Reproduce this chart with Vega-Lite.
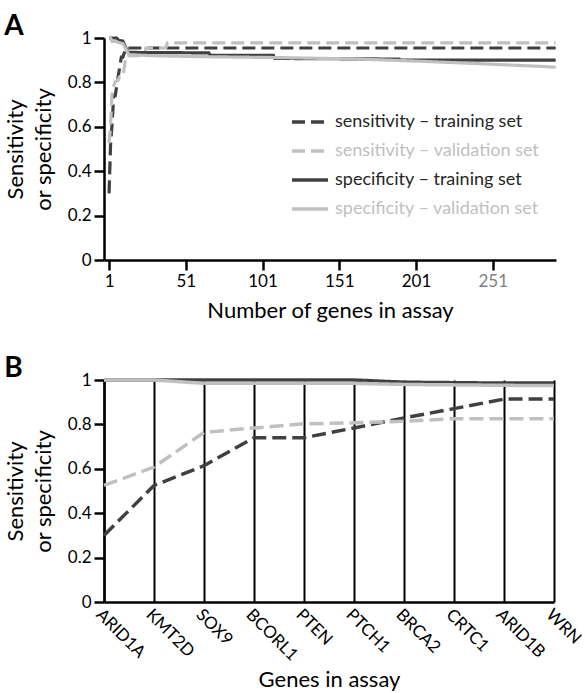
{
  "$schema": "https://vega.github.io/schema/vega-lite/v6.json",
  "padding": {"left": 4, "top": 13, "right": 5, "bottom": 5},
  "background": "white",
  "config": {
    "font": "Lato",
    "view": {"stroke": null},
    "axis": {
      "domainColor": "black", "domainWidth": 2.5, "tickColor": "black", "tickWidth": 2.5, "tickSize": 10,
      "labelFontSize": 17, "labelColor": "black", "labelPadding": 3,
      "titleFontSize": 22, "titleFontWeight": "normal", "titleColor": "black", "grid": false
    }
  },
  "datasets": {
    "A": [
      {"gene": 1, "value": 0.30, "series": "sensitivity – training set"},
      {"gene": 2, "value": 0.525, "series": "sensitivity – training set"},
      {"gene": 3, "value": 0.614, "series": "sensitivity – training set"},
      {"gene": 4, "value": 0.74, "series": "sensitivity – training set"},
      {"gene": 5, "value": 0.74, "series": "sensitivity – training set"},
      {"gene": 6, "value": 0.784, "series": "sensitivity – training set"},
      {"gene": 7, "value": 0.829, "series": "sensitivity – training set"},
      {"gene": 8, "value": 0.871, "series": "sensitivity – training set"},
      {"gene": 9, "value": 0.914, "series": "sensitivity – training set"},
      {"gene": 10, "value": 0.914, "series": "sensitivity – training set"},
      {"gene": 12, "value": 0.955, "series": "sensitivity – training set"},
      {"gene": 292, "value": 0.955, "series": "sensitivity – training set"},
      {"gene": 1, "value": 0.525, "series": "sensitivity – validation set"},
      {"gene": 2, "value": 0.608, "series": "sensitivity – validation set"},
      {"gene": 3, "value": 0.764, "series": "sensitivity – validation set"},
      {"gene": 4, "value": 0.784, "series": "sensitivity – validation set"},
      {"gene": 5, "value": 0.803, "series": "sensitivity – validation set"},
      {"gene": 6, "value": 0.807, "series": "sensitivity – validation set"},
      {"gene": 7, "value": 0.814, "series": "sensitivity – validation set"},
      {"gene": 8, "value": 0.826, "series": "sensitivity – validation set"},
      {"gene": 10, "value": 0.826, "series": "sensitivity – validation set"},
      {"gene": 11, "value": 0.87, "series": "sensitivity – validation set"},
      {"gene": 12, "value": 0.92, "series": "sensitivity – validation set"},
      {"gene": 24, "value": 0.92, "series": "sensitivity – validation set"},
      {"gene": 25, "value": 0.955, "series": "sensitivity – validation set"},
      {"gene": 38, "value": 0.955, "series": "sensitivity – validation set"},
      {"gene": 39, "value": 0.978, "series": "sensitivity – validation set"},
      {"gene": 292, "value": 0.978, "series": "sensitivity – validation set"},
      {"gene": 1, "value": 1.0, "series": "specificity – training set"},
      {"gene": 6, "value": 1.0, "series": "specificity – training set"},
      {"gene": 7, "value": 0.99, "series": "specificity – training set"},
      {"gene": 8, "value": 0.988, "series": "specificity – training set"},
      {"gene": 10, "value": 0.986, "series": "specificity – training set"},
      {"gene": 11, "value": 0.97, "series": "specificity – training set"},
      {"gene": 13, "value": 0.94, "series": "specificity – training set"},
      {"gene": 14, "value": 0.935, "series": "specificity – training set"},
      {"gene": 66, "value": 0.933, "series": "specificity – training set"},
      {"gene": 67, "value": 0.922, "series": "specificity – training set"},
      {"gene": 108, "value": 0.922, "series": "specificity – training set"},
      {"gene": 109, "value": 0.908, "series": "specificity – training set"},
      {"gene": 190, "value": 0.905, "series": "specificity – training set"},
      {"gene": 191, "value": 0.9, "series": "specificity – training set"},
      {"gene": 292, "value": 0.9, "series": "specificity – training set"},
      {"gene": 1, "value": 1.0, "series": "specificity – validation set"},
      {"gene": 2, "value": 1.0, "series": "specificity – validation set"},
      {"gene": 3, "value": 0.985, "series": "specificity – validation set"},
      {"gene": 6, "value": 0.985, "series": "specificity – validation set"},
      {"gene": 7, "value": 0.98, "series": "specificity – validation set"},
      {"gene": 8, "value": 0.978, "series": "specificity – validation set"},
      {"gene": 10, "value": 0.975, "series": "specificity – validation set"},
      {"gene": 12, "value": 0.95, "series": "specificity – validation set"},
      {"gene": 14, "value": 0.925, "series": "specificity – validation set"},
      {"gene": 30, "value": 0.92, "series": "specificity – validation set"},
      {"gene": 60, "value": 0.916, "series": "specificity – validation set"},
      {"gene": 110, "value": 0.912, "series": "specificity – validation set"},
      {"gene": 165, "value": 0.905, "series": "specificity – validation set"},
      {"gene": 205, "value": 0.895, "series": "specificity – validation set"},
      {"gene": 240, "value": 0.885, "series": "specificity – validation set"},
      {"gene": 283, "value": 0.872, "series": "specificity – validation set"},
      {"gene": 292, "value": 0.868, "series": "specificity – validation set"}
    ],
    "B": [
      {"gene": "ARID1A", "value": 0.30, "series": "sensitivity – training set"},
      {"gene": "KMT2D", "value": 0.525, "series": "sensitivity – training set"},
      {"gene": "SOX9", "value": 0.614, "series": "sensitivity – training set"},
      {"gene": "BCORL1", "value": 0.74, "series": "sensitivity – training set"},
      {"gene": "PTEN", "value": 0.74, "series": "sensitivity – training set"},
      {"gene": "PTCH1", "value": 0.784, "series": "sensitivity – training set"},
      {"gene": "BRCA2", "value": 0.829, "series": "sensitivity – training set"},
      {"gene": "CRTC1", "value": 0.871, "series": "sensitivity – training set"},
      {"gene": "ARID1B", "value": 0.914, "series": "sensitivity – training set"},
      {"gene": "WRN", "value": 0.914, "series": "sensitivity – training set"},
      {"gene": "ARID1A", "value": 0.525, "series": "sensitivity – validation set"},
      {"gene": "KMT2D", "value": 0.608, "series": "sensitivity – validation set"},
      {"gene": "SOX9", "value": 0.764, "series": "sensitivity – validation set"},
      {"gene": "BCORL1", "value": 0.784, "series": "sensitivity – validation set"},
      {"gene": "PTEN", "value": 0.803, "series": "sensitivity – validation set"},
      {"gene": "PTCH1", "value": 0.807, "series": "sensitivity – validation set"},
      {"gene": "BRCA2", "value": 0.814, "series": "sensitivity – validation set"},
      {"gene": "CRTC1", "value": 0.826, "series": "sensitivity – validation set"},
      {"gene": "ARID1B", "value": 0.826, "series": "sensitivity – validation set"},
      {"gene": "WRN", "value": 0.826, "series": "sensitivity – validation set"},
      {"gene": "ARID1A", "value": 1.0, "series": "specificity – training set"},
      {"gene": "KMT2D", "value": 1.0, "series": "specificity – training set"},
      {"gene": "SOX9", "value": 1.0, "series": "specificity – training set"},
      {"gene": "BCORL1", "value": 1.0, "series": "specificity – training set"},
      {"gene": "PTEN", "value": 1.0, "series": "specificity – training set"},
      {"gene": "PTCH1", "value": 1.0, "series": "specificity – training set"},
      {"gene": "BRCA2", "value": 0.99, "series": "specificity – training set"},
      {"gene": "CRTC1", "value": 0.988, "series": "specificity – training set"},
      {"gene": "ARID1B", "value": 0.986, "series": "specificity – training set"},
      {"gene": "WRN", "value": 0.986, "series": "specificity – training set"},
      {"gene": "ARID1A", "value": 1.0, "series": "specificity – validation set"},
      {"gene": "KMT2D", "value": 1.0, "series": "specificity – validation set"},
      {"gene": "SOX9", "value": 0.985, "series": "specificity – validation set"},
      {"gene": "BCORL1", "value": 0.985, "series": "specificity – validation set"},
      {"gene": "PTEN", "value": 0.985, "series": "specificity – validation set"},
      {"gene": "PTCH1", "value": 0.985, "series": "specificity – validation set"},
      {"gene": "BRCA2", "value": 0.98, "series": "specificity – validation set"},
      {"gene": "CRTC1", "value": 0.978, "series": "specificity – validation set"},
      {"gene": "ARID1B", "value": 0.976, "series": "specificity – validation set"},
      {"gene": "WRN", "value": 0.975, "series": "specificity – validation set"}
    ]
  },
  "spacing": 34,
  "resolve": {
    "scale": {"color": "independent", "strokeDash": "independent", "x": "independent", "y": "independent"},
    "legend": {"color": "independent", "strokeDash": "independent"}
  },
  "vconcat": [
    {
      "width": 452,
      "height": 222,
      "title": {"text": "A", "anchor": "start", "frame": "bounds", "fontSize": 28, "fontWeight": "bold", "color": "black", "offset": -12},
      "layer": [
        {
          "data": {"name": "A"},
          "mark": {"type": "line", "strokeWidth": 3.2},
          "encoding": {
            "x": {
              "field": "gene", "type": "quantitative",
              "scale": {"domain": [-2.3, 292.2], "nice": false, "zero": false},
              "axis": {
                "title": "Number of genes in assay", "values": [1, 51, 101, 151, 201, 251],
                "labelColor": {"condition": {"test": "datum.value == 251", "value": "#7f7f7f"}, "value": "black"},
                "titlePadding": 11
              }
            },
            "y": {
              "field": "value", "type": "quantitative",
              "scale": {"domain": [0, 1], "nice": false},
              "axis": {"title": ["Sensitivity", "or specificity"], "values": [0, 0.2, 0.4, 0.6, 0.8, 1], "format": "~g", "titleLineHeight": 28, "titlePadding": 12}
            },
            "color": {
              "field": "series", "type": "nominal",
              "scale": {"domain": ["sensitivity – training set", "sensitivity – validation set", "specificity – training set", "specificity – validation set"], "range": ["#404040", "#c0c0c0", "#404040", "#c0c0c0"]},
              "legend": {
                "title": null, "orient": "none", "legendX": 186, "legendY": 64,
                "symbolType": "stroke", "symbolSize": 1296, "symbolStrokeWidth": 3.5,
                "labelFontSize": 18, "labelOffset": 5, "rowPadding": -9, "labelLimit": 400,
                "encode": {"labels": {"update": {"fill": {"signal": "test(/validation/, datum.label) ? '#bfbfbf' : '#262626'"}}}}
              }
            },
            "strokeDash": {
              "field": "series", "type": "nominal",
              "scale": {"domain": ["sensitivity – training set", "sensitivity – validation set", "specificity – training set", "specificity – validation set"], "range": [[13, 6], [13, 6], [1, 0], [1, 0]]},
              "legend": {
                "title": null, "orient": "none", "legendX": 186, "legendY": 64,
                "symbolType": "stroke", "symbolSize": 1296, "symbolStrokeWidth": 3.5,
                "labelFontSize": 18, "labelOffset": 5, "rowPadding": -9, "labelLimit": 400,
                "encode": {"labels": {"update": {"fill": {"signal": "test(/validation/, datum.label) ? '#bfbfbf' : '#262626'"}}}}
              }
            }
          }
        },
        {
          "mark": {"type": "rule", "strokeDash": [2, 7], "strokeWidth": 2.5, "color": "black"},
          "encoding": {"y": {"datum": 1}}
        }
      ]
    },
    {
      "width": 450,
      "height": 222,
      "title": {"text": "B", "anchor": "start", "frame": "bounds", "fontSize": 28, "fontWeight": "bold", "color": "black", "offset": -12},
      "layer": [
        {
          "data": {"name": "B"},
          "mark": {"type": "line", "strokeWidth": 3.5},
          "encoding": {
            "x": {
              "field": "gene", "type": "nominal",
              "scale": {"type": "point", "padding": 0, "domain": ["ARID1A", "KMT2D", "SOX9", "BCORL1", "PTEN", "PTCH1", "BRCA2", "CRTC1", "ARID1B", "WRN"]},
              "axis": {"title": "Genes in assay", "grid": true, "gridColor": "black", "gridWidth": 2, "ticks": false, "labelAngle": 45, "labelAlign": "left", "labelBaseline": "top", "labelPadding": 4, "titlePadding": 6}
            },
            "y": {
              "field": "value", "type": "quantitative",
              "scale": {"domain": [0, 1], "nice": false},
              "axis": {"title": ["Sensitivity", "or specificity"], "values": [0, 0.2, 0.4, 0.6, 0.8, 1], "format": "~g", "titleLineHeight": 28, "titlePadding": 12}
            },
            "color": {
              "field": "series", "type": "nominal", "legend": null,
              "scale": {"domain": ["sensitivity – training set", "sensitivity – validation set", "specificity – training set", "specificity – validation set"], "range": ["#404040", "#c0c0c0", "#404040", "#c0c0c0"]}
            },
            "strokeDash": {
              "field": "series", "type": "nominal", "legend": null,
              "scale": {"domain": ["sensitivity – training set", "sensitivity – validation set", "specificity – training set", "specificity – validation set"], "range": [[14, 6], [14, 6], [1, 0], [1, 0]]}
            }
          }
        },
        {
          "mark": {"type": "rule", "strokeDash": [2, 7], "strokeWidth": 2.5, "color": "black"},
          "encoding": {"y": {"datum": 1}}
        }
      ]
    }
  ]
}
